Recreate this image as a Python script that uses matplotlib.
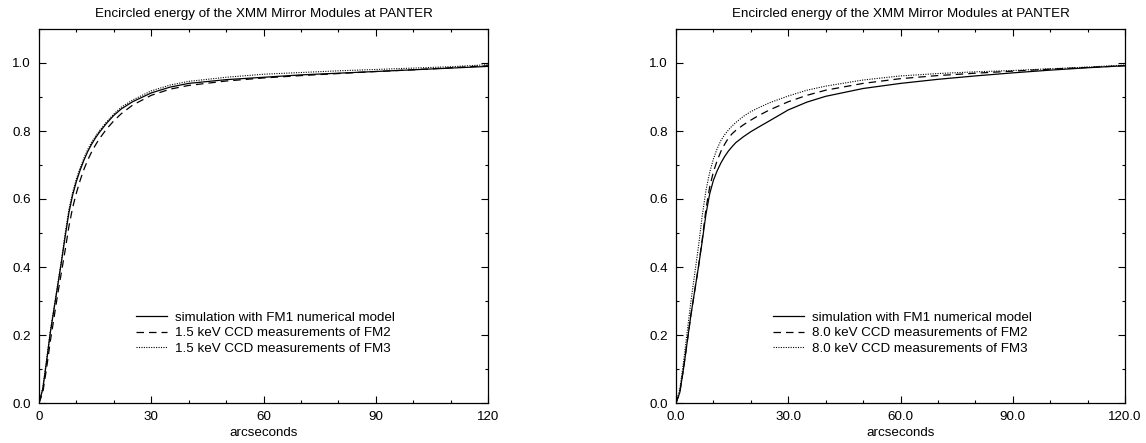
import matplotlib
matplotlib.use("Agg")
import matplotlib.pyplot as plt
from matplotlib.ticker import MultipleLocator, FormatStrFormatter

plt.rcParams['font.family'] = ['Liberation Sans', 'DejaVu Sans']

title = "Encircled energy of the XMM Mirror Modules at PANTER"
xlabel = "arcseconds"

arcsec = [0, 1, 2, 3, 4, 5, 6, 7, 8, 9, 10, 11, 12, 13, 14, 15, 16, 18, 20, 22, 25, 30, 35,
          40, 50, 60, 70, 80, 90, 100, 110, 120]

# 1.5 keV panel
low_sim = [0, 0.04, 0.12, 0.205, 0.275, 0.345, 0.415, 0.49, 0.56, 0.612, 0.652, 0.685, 0.714,
           0.739, 0.76, 0.778, 0.794, 0.822, 0.846, 0.865, 0.886, 0.912, 0.929, 0.94, 0.951,
           0.958, 0.965, 0.97, 0.975, 0.98, 0.985, 0.99]
low_fm2 = [0, 0.03, 0.10, 0.18, 0.25, 0.32, 0.385, 0.45, 0.52, 0.575, 0.618, 0.655, 0.687,
           0.714, 0.737, 0.757, 0.775, 0.805, 0.83, 0.851, 0.876, 0.905, 0.923, 0.934, 0.947,
           0.956, 0.963, 0.969, 0.975, 0.98, 0.986, 0.992]
low_fm3 = [0, 0.045, 0.125, 0.21, 0.28, 0.35, 0.42, 0.50, 0.57, 0.62, 0.66, 0.692, 0.72,
           0.745, 0.766, 0.783, 0.799, 0.826, 0.85, 0.87, 0.891, 0.918, 0.935, 0.946, 0.958,
           0.967, 0.972, 0.977, 0.981, 0.985, 0.989, 0.995]

# 8.0 keV panel
high_sim = [0, 0.03, 0.10, 0.18, 0.26, 0.33, 0.40, 0.475, 0.555, 0.615, 0.655, 0.683, 0.706,
            0.725, 0.741, 0.754, 0.766, 0.783, 0.798, 0.811, 0.83, 0.862, 0.885, 0.902, 0.925,
            0.94, 0.952, 0.962, 0.971, 0.979, 0.986, 0.992]
high_fm2 = [0, 0.03, 0.10, 0.18, 0.26, 0.33, 0.40, 0.48, 0.57, 0.635, 0.68, 0.713, 0.74,
            0.761, 0.779, 0.792, 0.802, 0.818, 0.832, 0.845, 0.862, 0.886, 0.905, 0.92, 0.94,
            0.954, 0.963, 0.97, 0.976, 0.982, 0.987, 0.992]
high_fm3 = [0, 0.04, 0.12, 0.21, 0.30, 0.38, 0.46, 0.55, 0.625, 0.678, 0.718, 0.748, 0.772,
            0.789, 0.803, 0.815, 0.825, 0.843, 0.857, 0.868, 0.883, 0.903, 0.92, 0.932, 0.95,
            0.962, 0.969, 0.974, 0.978, 0.983, 0.988, 0.994]

labels_low = ["simulation with FM1 numerical model",
              "1.5 keV CCD measurements of FM2",
              "1.5 keV CCD measurements of FM3"]
labels_high = ["simulation with FM1 numerical model",
               "8.0 keV CCD measurements of FM2",
               "8.0 keV CCD measurements of FM3"]

W, H = 1146, 443
fig = plt.figure(figsize=(W / 100, H / 100), dpi=100)
ax1 = fig.add_axes([39 / W, 40 / H, 449 / W, 374 / H])
ax2 = fig.add_axes([676 / W, 40 / H, 449 / W, 374 / H])

FS = 9.6

def draw(ax, sim, fm2, fm3, labels, fmt):
    ax.plot(arcsec, sim, color='black', lw=0.9, ls='-', label=labels[0])
    ax.plot(arcsec, fm2, color='black', lw=0.9, ls=(0, (6, 4)), label=labels[1])
    ax.plot(arcsec, fm3, color='black', lw=0.8, ls=(0, (1, 1.2)), label=labels[2])
    ax.set_xlim(0, 120)
    ax.set_ylim(0, 1.1)
    ax.xaxis.set_major_locator(MultipleLocator(30))
    ax.xaxis.set_minor_locator(MultipleLocator(10))
    ax.yaxis.set_major_locator(MultipleLocator(0.2))
    ax.yaxis.set_minor_locator(MultipleLocator(0.1))
    ax.xaxis.set_major_formatter(FormatStrFormatter(fmt))
    ax.yaxis.set_major_formatter(FormatStrFormatter('%.1f'))
    ax.tick_params(which='both', direction='in', top=True, right=True,
                   labelsize=FS, width=0.8, pad=6)
    ax.tick_params(which='major', length=5)
    ax.tick_params(which='minor', length=2.5)
    for s in ax.spines.values():
        s.set_linewidth(0.9)
    ax.set_title(title, fontsize=FS, pad=9)
    ax.set_xlabel(xlabel, fontsize=FS, labelpad=3)
    ax.legend(loc='center left', bbox_to_anchor=(0.216, 0.187), frameon=False,
              fontsize=FS, handlelength=2.3, handletextpad=0.65, labelspacing=0.25,
              borderpad=0, borderaxespad=0)

draw(ax1, low_sim, low_fm2, low_fm3, labels_low, '%d')
draw(ax2, high_sim, high_fm2, high_fm3, labels_high, '%.1f')

fig.savefig("out.png", dpi=100)
